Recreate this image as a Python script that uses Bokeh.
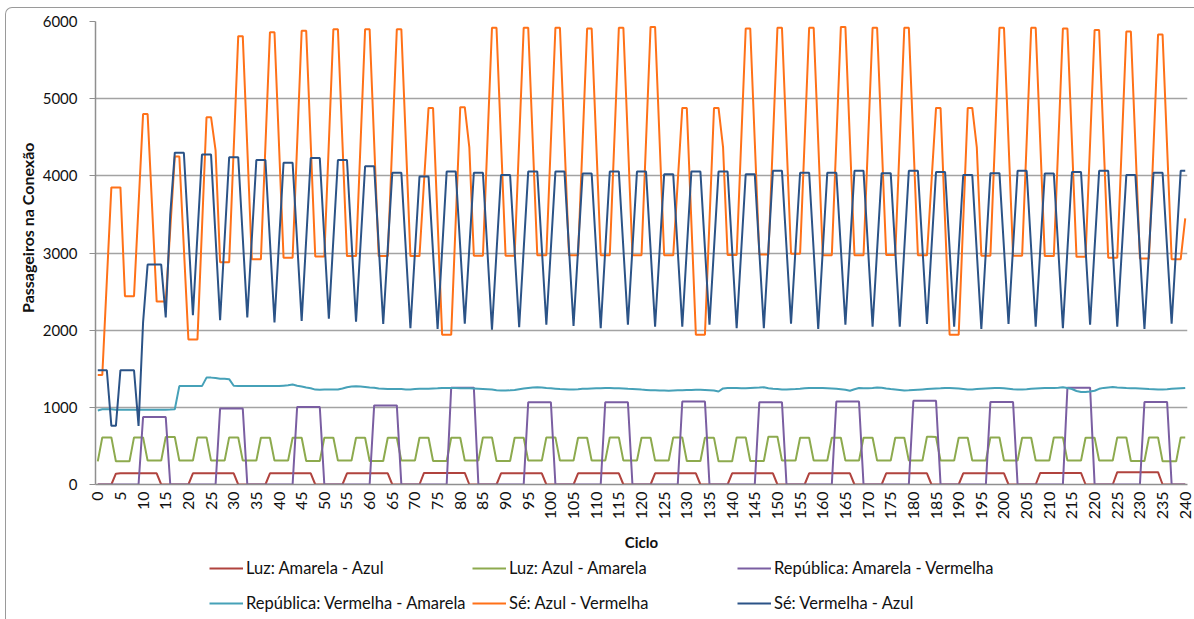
import math
from bokeh.plotting import figure
from bokeh.layouts import column
from bokeh.models import (Legend, LegendItem, FixedTicker, Title, Range1d, InlineStyleSheet)
from bokeh.embed import file_html
from bokeh.resources import INLINE

ciclos = list(range(241))
x_ticks = list(range(0, 241, 5))
y_ticks = [0, 1000, 2000, 3000, 4000, 5000, 6000]

luz_amarela_azul = [
    0, 0, 0, 0,
    140, 145, 145, 145, 145, 145, 145, 145, 145, 145, 0, 0, 0, 0, 0, 0, 0,
    145, 145, 145, 145, 145, 145, 145, 145, 145, 145, 0, 0, 0, 0, 0, 0, 0,
    145, 145, 145, 145, 145, 145, 145, 145, 145, 145, 0, 0, 0, 0, 0, 0, 0,
    145, 145, 145, 145, 145, 145, 145, 145, 145, 145, 0, 0, 0, 0, 0, 0, 0,
    150, 150, 150, 150, 150, 150, 150, 150, 150, 150, 0, 0, 0, 0, 0, 0, 0,
    145, 145, 145, 145, 145, 145, 145, 145, 145, 145, 0, 0, 0, 0, 0, 0, 0,
    145, 145, 145, 145, 145, 145, 145, 145, 145, 145, 0, 0, 0, 0, 0, 0, 0,
    145, 145, 145, 145, 145, 145, 145, 145, 145, 145, 0, 0, 0, 0, 0, 0, 0,
    145, 145, 145, 145, 145, 145, 145, 145, 145, 145, 0, 0, 0, 0, 0, 0, 0,
    145, 145, 145, 145, 145, 145, 145, 145, 145, 145, 0, 0, 0, 0, 0, 0, 0,
    145, 145, 145, 145, 145, 145, 145, 145, 145, 145, 0, 0, 0, 0, 0, 0, 0,
    145, 145, 145, 145, 145, 145, 145, 145, 145, 145, 0, 0, 0, 0, 0, 0, 0,
    150, 150, 150, 150, 150, 150, 150, 150, 150, 150, 0, 0, 0, 0, 0, 0, 0,
    160, 160, 160, 160, 160, 160, 160, 160, 160, 160, 0, 0, 0, 0, 0, 0,
]

luz_azul_amarela = [
    300,
    610, 610, 610, 300, 300, 300, 300,
    610, 610, 610, 310, 310, 310, 310,
    615, 615, 615, 310, 310, 310, 310,
    610, 610, 610, 310, 310, 310, 310,
    610, 610, 610, 310, 310, 310, 310,
    605, 605, 605, 310, 310, 310, 310,
    605, 605, 605, 305, 305, 305, 305,
    605, 605, 605, 310, 310, 310, 310,
    605, 605, 605, 305, 305, 305, 305,
    605, 605, 605, 310, 310, 310, 310,
    605, 605, 605, 305, 305, 305, 305,
    605, 605, 605, 310, 310, 310, 310,
    610, 610, 610, 305, 305, 305, 305,
    605, 605, 605, 310, 310, 310, 310,
    610, 610, 610, 310, 310, 310, 310,
    605, 605, 605, 310, 310, 310, 310,
    610, 610, 610, 310, 310, 310, 310,
    605, 605, 605, 310, 310, 310, 310,
    610, 610, 610, 305, 305, 305, 305,
    605, 605, 605, 300, 300, 300, 300,
    610, 610, 610, 305, 305, 305, 305,
    620, 620, 620, 310, 310, 310, 310,
    605, 605, 605, 310, 310, 310, 310,
    605, 605, 605, 310, 310, 310, 310,
    605, 605, 605, 310, 310, 310, 310,
    605, 605, 605, 310, 310, 310, 310,
    620, 620, 615, 310, 310, 310, 310,
    605, 605, 605, 310, 310, 310, 310,
    610, 610, 610, 310, 310, 310, 310,
    605, 605, 605, 310, 310, 310, 310,
    610, 610, 610, 310, 310, 310, 310,
    605, 605, 605, 310, 310, 310, 310,
    610, 610, 610, 305, 305, 305, 305,
    610, 610, 610, 300, 300, 300, 300,
    610, 610,
]

republica_amarela_vermelha = [
    0, 0, 0, 0, 0, 0, 0, 0, 0, 0,
    875, 875, 875, 875, 875, 875, 0, 0, 0, 0, 0, 0, 0, 0, 0, 0, 0,
    985, 985, 985, 985, 985, 985, 0, 0, 0, 0, 0, 0, 0, 0, 0, 0, 0,
    1005, 1005, 1005, 1005, 1005, 1005, 0, 0, 0, 0, 0, 0, 0, 0, 0, 0, 0,
    1025, 1025, 1025, 1025, 1025, 1025, 0, 0, 0, 0, 0, 0, 0, 0, 0, 0, 0,
    1255, 1255, 1255, 1255, 1255, 1255, 0, 0, 0, 0, 0, 0, 0, 0, 0, 0, 0,
    1065, 1065, 1065, 1065, 1065, 1065, 0, 0, 0, 0, 0, 0, 0, 0, 0, 0, 0,
    1065, 1065, 1065, 1065, 1065, 1065, 0, 0, 0, 0, 0, 0, 0, 0, 0, 0, 0,
    1075, 1075, 1075, 1075, 1075, 1075, 0, 0, 0, 0, 0, 0, 0, 0, 0, 0, 0,
    1065, 1065, 1065, 1065, 1065, 1065, 0, 0, 0, 0, 0, 0, 0, 0, 0, 0, 0,
    1075, 1075, 1075, 1075, 1075, 1075, 0, 0, 0, 0, 0, 0, 0, 0, 0, 0, 0,
    1085, 1085, 1085, 1085, 1085, 1085, 0, 0, 0, 0, 0, 0, 0, 0, 0, 0, 0,
    1070, 1070, 1070, 1070, 1070, 1070, 0, 0, 0, 0, 0, 0, 0, 0, 0, 0, 0,
    1255, 1255, 1255, 1255, 1255, 1255, 0, 0, 0, 0, 0, 0, 0, 0, 0, 0, 0,
    1070, 1070, 1070, 1070, 1070, 1070, 0, 0, 0, 0,
]

republica_vermelha_amarela = [
    960, 975,
    975, 975, 970, 970, 970, 970, 970, 970, 970, 970, 970, 970, 970, 970, 972, 975,
    1275, 1275, 1275, 1275, 1275, 1275,
    1385, 1385, 1380,
    1370, 1370, 1365,
    1280, 1275, 1275, 1275, 1275, 1275, 1275, 1275, 1275, 1275, 1275, 1280, 1285,
    1295, 1280, 1270, 1258, 1248,
    1230, 1228, 1230, 1230, 1232, 1232,
    1245, 1260, 1270, 1274, 1270, 1265, 1258, 1255, 1245, 1242,
    1238, 1238, 1236, 1236, 1232, 1232, 1236, 1240,
    1242, 1242, 1244, 1246, 1250, 1250, 1252, 1250, 1248,
    1246, 1246, 1244, 1242, 1238, 1234, 1230,
    1222, 1218, 1218, 1220, 1225, 1235, 1245, 1252,
    1258, 1260, 1256, 1250, 1246, 1242, 1238,
    1234, 1230, 1230, 1234, 1240, 1242, 1244, 1246,
    1248, 1250, 1250, 1248, 1246, 1244, 1240, 1238,
    1235, 1230, 1226,
    1222, 1220, 1218, 1218, 1216, 1218, 1220, 1222, 1224,
    1226, 1228, 1228, 1225, 1222, 1218, 1205,
    1245, 1250, 1250, 1250, 1248, 1246, 1250, 1254, 1256, 1260, 1248,
    1240, 1236, 1232, 1232, 1234, 1236, 1240,
    1246, 1250, 1250, 1250, 1250, 1248, 1244, 1240,
    1234, 1228, 1215, 1235, 1250,
    1248, 1246, 1250, 1258, 1255, 1245,
    1238, 1232, 1226, 1218, 1220, 1224,
    1228, 1232, 1236, 1240, 1244, 1246,
    1250, 1250, 1248, 1244, 1238, 1232, 1232,
    1236, 1240, 1244, 1248, 1250, 1250, 1246, 1240,
    1234, 1230, 1230, 1234, 1240, 1244, 1248,
    1250, 1250, 1252, 1255, 1260, 1250, 1238,
    1212, 1200, 1200, 1205, 1215, 1240, 1252, 1258,
    1262, 1258, 1255, 1250, 1248, 1246, 1244,
    1240, 1236, 1234, 1230, 1230, 1234, 1240, 1244, 1248, 1252,
]

se_azul_vermelha = [
    1420, 1420, 2640, 3850, 3850, 3850, 2440, 2440, 2440, 3620,
    4800, 4800, 3585, 2370, 2370, 2370, 3310,
    4250, 4250, 3065, 1880, 1880, 1880, 3320,
    4760, 4760, 4330, 2880, 2880, 2880, 4345,
    5810, 5810, 4365, 2920, 2920, 2920, 4390,
    5860, 5860, 4400, 2940, 2940, 2940, 4410,
    5880, 5880, 4420, 2955, 2955, 2955, 4430,
    5900, 5900, 4430, 2960, 2960, 2960, 4430,
    5900, 5900, 4430, 2960, 2960, 2960, 4430,
    5900, 5900, 4430, 2960, 2960, 2960, 3920,
    4880, 4880, 3410, 1940, 1940, 1940, 3415,
    4890, 4890, 4370, 2965, 2965, 2965, 4440,
    5920, 5920, 4440, 2965, 2965, 2965, 4445,
    5920, 5920, 4445, 2970, 2970, 2970, 4445,
    5920, 5920, 4445, 2970, 2970, 2970, 4440,
    5910, 5910, 4440, 2970, 2970, 2970, 4445,
    5920, 5920, 4445, 2970, 2970, 2970, 4450,
    5930, 5930, 4450, 2970, 2970, 2970, 3925,
    4880, 4880, 3410, 1940, 1940, 1940, 3410,
    4880, 4880, 4370, 2975, 2975, 2975, 4440,
    5910, 5910, 4445, 2980, 2980, 2980, 4450,
    5920, 5920, 4455, 2990, 2990, 2990, 4455,
    5920, 5920, 4445, 2970, 2970, 2970, 4450,
    5930, 5930, 4450, 2970, 2970, 2970, 4445,
    5920, 5920, 4445, 2975, 2975, 2975, 4450,
    5920, 5920, 4445, 2970, 2970, 2970, 3925,
    4880, 4880, 3410, 1940, 1940, 1940, 3410,
    4880, 4880, 4370, 2965, 2965, 2965, 4440,
    5920, 5920, 4440, 2965, 2965, 2965, 4440,
    5920, 5920, 4440, 2960, 2960, 2960, 4435,
    5910, 5910, 4430, 2950, 2950, 2950, 4420,
    5890, 5890, 4415, 2940, 2940, 2940, 4405,
    5870, 5870, 4400, 2930, 2930, 2930, 4380,
    5830, 5830, 4375, 2920, 2920, 2920, 3450,
]

se_vermelha_azul = [
    1480, 1480, 1480, 760, 760, 1480, 1480, 1480, 1480, 760,
    2100, 2850, 2850, 2850, 2850, 2165, 3500,
    4300, 4300, 4300, 3250, 2195, 3235,
    4275, 4275, 4275, 3200, 2130, 3185,
    4240, 4240, 4240, 3200, 2165, 3185,
    4205, 4205, 4205, 3150, 2100, 3135,
    4170, 4170, 4170, 3145, 2120, 3175,
    4230, 4230, 4230, 3190, 2150, 3180,
    4205, 4205, 4205, 3160, 2110, 3120,
    4125, 4125, 4125, 3100, 2080, 3060,
    4040, 4040, 4040, 3030, 2025, 3010,
    3990, 3990, 3990, 3000, 2015, 3035,
    4055, 4055, 4055, 3070, 2085, 3060,
    4040, 4040, 4040, 3020, 2005, 3010,
    4010, 4010, 4010, 3025, 2040, 3050,
    4055, 4055, 4055, 3060, 2070, 3060,
    4055, 4055, 4055, 3055, 2055, 3040,
    4030, 4030, 4030, 3030, 2025, 3040,
    4055, 4055, 4055, 3060, 2070, 3060,
    4055, 4055, 4055, 3050, 2045, 3030,
    4020, 4020, 4020, 3030, 2045, 3050,
    4055, 4055, 4055, 3060, 2070, 3060,
    4055, 4055, 4055, 3040, 2025, 3020,
    4020, 4020, 4020, 3020, 2025, 3045,
    4065, 4065, 4065, 3075, 2085, 3060,
    4040, 4040, 4040, 3030, 2015, 3030,
    4040, 4040, 4040, 3055, 2070, 3070,
    4065, 4065, 4065, 3055, 2045, 3040,
    4035, 4035, 4035, 3040, 2045, 3055,
    4065, 4065, 4065, 3070, 2080, 3065,
    4050, 4050, 4050, 3050, 2045, 3030,
    4010, 4010, 4010, 3010, 2015, 3025,
    4035, 4035, 4035, 3060, 2080, 3070,
    4065, 4065, 4065, 3055, 2045, 3040,
    4030, 4030, 4030, 3030, 2025, 3040,
    4050, 4050, 4050, 3060, 2070, 3070,
    4065, 4065, 4065, 3055, 2045, 3030,
    4010, 4010, 4010, 3010, 2015, 3030,
    4040, 4040, 4040, 3060, 2085, 3075,
    4065, 4065,
]

series_names = [
    "Luz: Amarela - Azul",
    "Luz: Azul - Amarela",
    "República: Amarela - Vermelha",
    "República: Vermelha - Amarela",
    "Sé: Azul - Vermelha",
    "Sé: Vermelha - Azul",
]
series_values = [luz_amarela_azul, luz_azul_amarela, republica_amarela_vermelha,
                 republica_vermelha_amarela, se_azul_vermelha, se_vermelha_azul]
series_colors = ["#B0433E", "#8DAA4E", "#7A5EA2", "#46A1B8", "#FF7118", "#2B5387"]

for nm, vals in zip(series_names, series_values):
    assert len(vals) == 241, (nm, len(vals))

FONT = "Lato"
W = 1194
H_MAIN = 556
H_LEG = 619 - H_MAIN

p = figure(width=W, height=H_MAIN, output_backend="svg", toolbar_location=None,
           x_range=Range1d(-0.5, 240.5), y_range=Range1d(0, 6000),
           min_border_left=95, min_border_right=7, min_border_top=21,
           min_border_bottom=H_MAIN - 484)
p.outline_line_color = None
p.background_fill_color = "white"
p.border_fill_color = "white"

renderers = []
for nm, vals, col in zip(series_names, series_values, series_colors):
    r = p.line(ciclos, vals, line_color=col, line_width=2)
    renderers.append(r)

# grid
p.xgrid.visible = False
p.ygrid.grid_line_color = "#a3a3a3"
p.ygrid.grid_line_width = 1.5
p.ygrid.ticker = FixedTicker(ticks=y_ticks)

# y axis
p.yaxis.ticker = FixedTicker(ticks=y_ticks)
p.yaxis.axis_line_color = "#8f8f8f"
p.yaxis.axis_line_width = 1.5
p.yaxis.major_tick_line_color = "#8f8f8f"
p.yaxis.major_tick_out = 6
p.yaxis.major_tick_in = 0
p.yaxis.minor_tick_line_color = None
p.yaxis.major_label_standoff = 12
p.yaxis.major_label_text_font = FONT
p.yaxis.major_label_text_font_size = "15px"
p.yaxis.major_label_text_color = "#111111"

# x axis
p.xaxis.ticker = FixedTicker(ticks=x_ticks)
p.xaxis.axis_line_color = "#8f8f8f"
p.xaxis.axis_line_width = 1.5
p.xaxis.major_tick_line_color = None
p.xaxis.major_tick_out = 0
p.xaxis.major_tick_in = 0
p.xaxis.minor_tick_line_color = None
p.xaxis.major_label_orientation = math.pi / 2
p.xaxis.major_label_standoff = 7
p.xaxis.major_label_text_font = FONT
p.xaxis.major_label_text_font_size = "16px"
p.xaxis.major_label_text_color = "#111111"
p.xaxis.axis_label = "Ciclo"
p.xaxis.axis_label_standoff = 11
p.xaxis.axis_label_text_font = FONT
p.xaxis.axis_label_text_font_style = "bold"
p.xaxis.axis_label_text_font_size = "15px"
p.xaxis.axis_label_text_color = "#111111"

# y axis title, as a side title so it can be shifted along the axis like the reference
p.add_layout(Title(text="Passageiros na Conexão", align="right", offset=121,
                   text_font=FONT, text_font_style="bold", text_font_size="16px",
                   text_color="#111111", standoff=6), "left")

p.stylesheets = [InlineStyleSheet(css=":host::after{content:'';position:absolute;left:5px;top:7px;right:0;bottom:0;border-left:1.5px solid #9a9a9a;border-top:1.5px solid #9a9a9a;border-top-left-radius:7px;pointer-events:none;}")]

# legend strip below the chart: three columns of two rows
pl = figure(width=W, height=H_LEG, output_backend="svg", toolbar_location=None,
            x_range=Range1d(0, W), y_range=Range1d(0, H_LEG),
            x_axis_type=None, y_axis_type=None,
            min_border_left=0, min_border_right=0, min_border_top=0, min_border_bottom=0)
pl.outline_line_color = None
pl.xgrid.visible = False
pl.ygrid.visible = False
pl.background_fill_color = "white"
pl.border_fill_color = "white"

# legend keys only (a single off-range point draws nothing in the strip)
leg_renderers = [pl.line([-10], [-10], line_color=c, line_width=2) for c in series_colors]

# the strip's frame is aligned with the chart's frame (which starts at x=95)
columns_spec = [(0, 3, 209 - 95), (1, 4, 472 - 95), (2, 5, 737 - 95)]
for a, b, vx in columns_spec:
    lg = Legend(items=[LegendItem(label=series_names[a], renderers=[leg_renderers[a]]),
                       LegendItem(label=series_names[b], renderers=[leg_renderers[b]])],
                location=(vx, H_LEG - 57), orientation="vertical",
                glyph_width=34, glyph_height=20, label_height=20, label_standoff=3,
                spacing=15, padding=0, margin=0, border_line_color=None,
                background_fill_alpha=0, label_text_font=FONT,
                label_text_font_size="16.5px", label_text_color="#111111")
    pl.add_layout(lg)

pl.stylesheets = [InlineStyleSheet(css=":host::after{content:'';position:absolute;left:5px;top:0;right:0;bottom:0;border-left:1.5px solid #9a9a9a;pointer-events:none;}")]

layout = column(p, pl, spacing=0)
open("out.html", "w").write(file_html(layout, INLINE))
